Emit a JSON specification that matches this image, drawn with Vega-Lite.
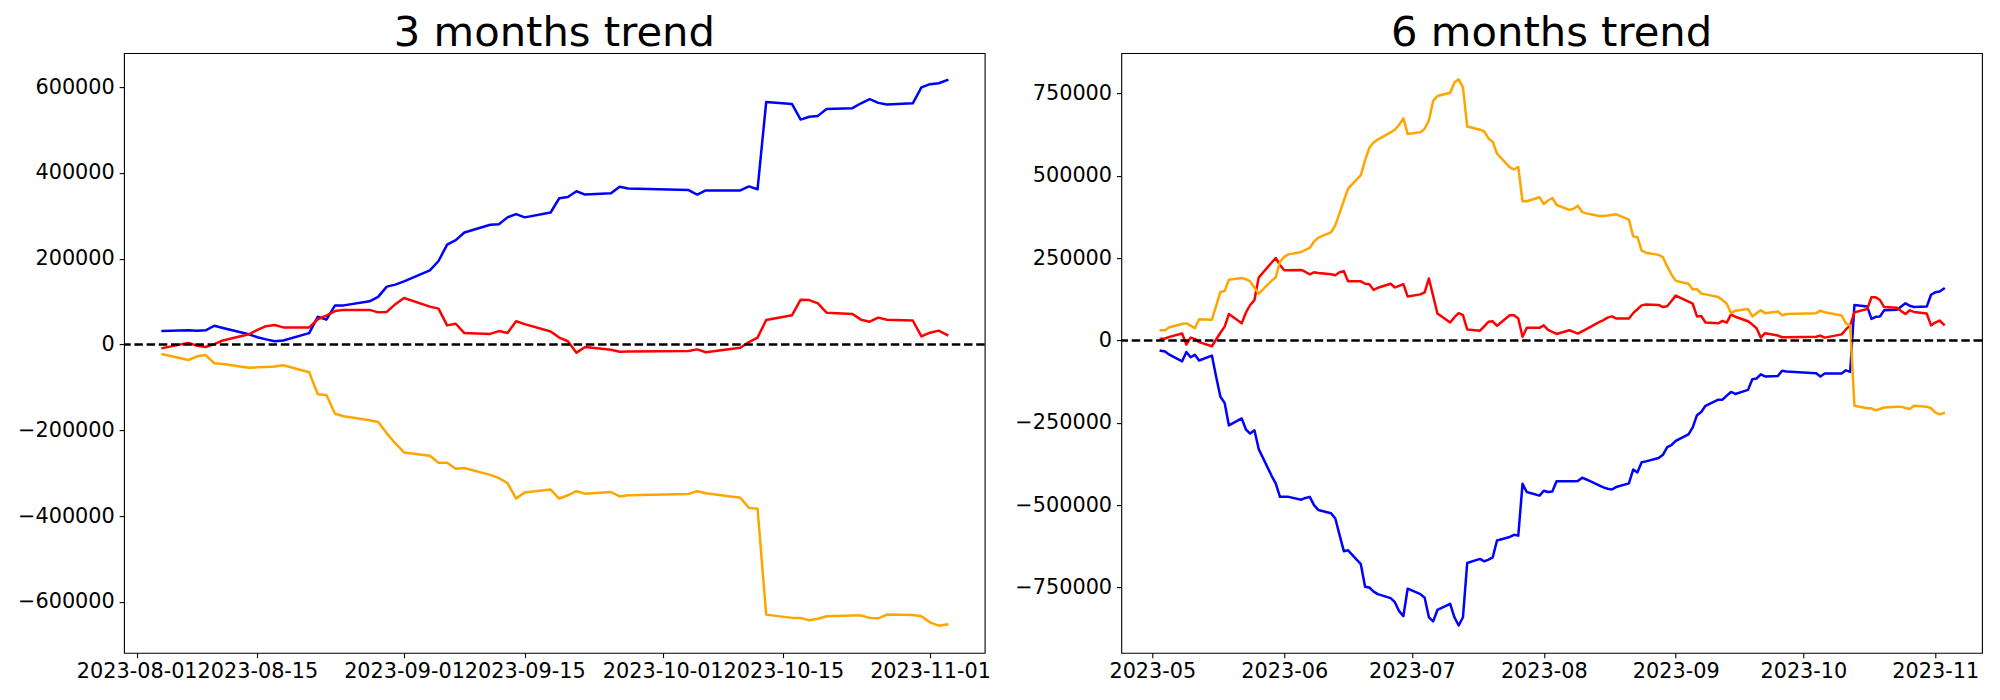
{
  "$schema": "https://vega.github.io/schema/vega-lite/v6.json",
  "padding": {"left": 16, "top": 12.1, "right": 0, "bottom": 0},
  "background": "white",
  "bounds": "flush",
  "spacing": 136.3,
  "config": {
    "font": "DejaVu Sans",
    "view": {"stroke": "black", "strokeWidth": 1.1},
    "axis": {"domain": false, "grid": false, "ticks": true, "tickColor": "black", "tickSize": 4.86, "tickWidth": 1.1, "labelColor": "black", "labelFont": "DejaVu Sans", "labelFontSize": 20.8, "labelPadding": 4.86, "labelOverlap": false, "labelFlush": false},
    "title": {"font": "DejaVu Sans", "fontSize": 41.7, "fontWeight": "normal", "color": "black", "anchor": "middle", "offset": -1.5, "baseline": "alphabetic"},
    "line": {"strokeWidth": 2.5, "strokeJoin": "round", "strokeCap": "square"}
  },
  "datasets": {
    "m3": [
      {"d":"2023/08/04","b":31400,"r":-8500,"o":-22800},
      {"d":"2023/08/07","b":33200,"r":3800,"o":-36100},
      {"d":"2023/08/08","b":32300,"r":-2800,"o":-27500},
      {"d":"2023/08/09","b":33000,"r":-5700,"o":-24700},
      {"d":"2023/08/10","b":43700,"r":1000,"o":-43700},
      {"d":"2023/08/11","b":38500,"r":9500,"o":-45600},
      {"d":"2023/08/14","b":24000,"r":23700,"o":-54100},
      {"d":"2023/08/15","b":17000,"r":34000,"o":-53200},
      {"d":"2023/08/16","b":12000,"r":42700,"o":-52200},
      {"d":"2023/08/17","b":7600,"r":45600,"o":-51300},
      {"d":"2023/08/18","b":9500,"r":39900,"o":-48400},
      {"d":"2023/08/21","b":26600,"r":39900,"o":-64600},
      {"d":"2023/08/22","b":64600,"r":58900,"o":-115900},
      {"d":"2023/08/23","b":58000,"r":67400,"o":-117800},
      {"d":"2023/08/24","b":91200,"r":77900,"o":-161500},
      {"d":"2023/08/25","b":91200,"r":80700,"o":-167200},
      {"d":"2023/08/28","b":100700,"r":80700,"o":-176700},
      {"d":"2023/08/29","b":111000,"r":75000,"o":-180500},
      {"d":"2023/08/30","b":135000,"r":76000,"o":-207100},
      {"d":"2023/08/31","b":139600,"r":94000,"o":-230800},
      {"d":"2023/09/01","b":147000,"r":108300,"o":-251700},
      {"d":"2023/09/04","b":172900,"r":88300,"o":-259300},
      {"d":"2023/09/05","b":194700,"r":83600,"o":-275500},
      {"d":"2023/09/06","b":232700,"r":44600,"o":-275500},
      {"d":"2023/09/07","b":243200,"r":48400,"o":-289700},
      {"d":"2023/09/08","b":261200,"r":26600,"o":-287800},
      {"d":"2023/09/11","b":279300,"r":24700,"o":-304000},
      {"d":"2023/09/12","b":280200,"r":31300,"o":-311600},
      {"d":"2023/09/13","b":296400,"r":26600,"o":-323000},
      {"d":"2023/09/14","b":304000,"r":54100,"o":-359100},
      {"d":"2023/09/15","b":296400,"r":47500,"o":-344800},
      {"d":"2023/09/18","b":307800,"r":30400,"o":-338200},
      {"d":"2023/09/19","b":341000,"r":16100,"o":-359100},
      {"d":"2023/09/20","b":343900,"r":7600,"o":-351500},
      {"d":"2023/09/21","b":357200,"r":-19000,"o":-342000},
      {"d":"2023/09/22","b":349600,"r":-5700,"o":-347700},
      {"d":"2023/09/25","b":352400,"r":-12300,"o":-343900},
      {"d":"2023/09/26","b":367600,"r":-17100,"o":-354300},
      {"d":"2023/09/27","b":363800,"r":-16100,"o":-351500},
      {"d":"2023/10/04","b":360000,"r":-15200,"o":-348600},
      {"d":"2023/10/05","b":349600,"r":-11400,"o":-342000},
      {"d":"2023/10/06","b":359100,"r":-18000,"o":-346700},
      {"d":"2023/10/10","b":359100,"r":-7600,"o":-357200},
      {"d":"2023/10/11","b":368600,"r":5700,"o":-380900},
      {"d":"2023/10/12","b":362000,"r":16100,"o":-382800},
      {"d":"2023/10/13","b":565200,"r":57000,"o":-629800},
      {"d":"2023/10/16","b":560500,"r":68400,"o":-637400},
      {"d":"2023/10/17","b":524400,"r":104500,"o":-637400},
      {"d":"2023/10/18","b":531000,"r":103500,"o":-643100},
      {"d":"2023/10/19","b":533000,"r":95900,"o":-639300},
      {"d":"2023/10/20","b":549100,"r":74100,"o":-633600},
      {"d":"2023/10/23","b":551000,"r":71200,"o":-631700},
      {"d":"2023/10/24","b":562400,"r":57900,"o":-631700},
      {"d":"2023/10/25","b":571900,"r":53200,"o":-637400},
      {"d":"2023/10/26","b":563300,"r":62700,"o":-638400},
      {"d":"2023/10/27","b":559500,"r":57900,"o":-629800},
      {"d":"2023/10/30","b":562400,"r":56000,"o":-630800},
      {"d":"2023/10/31","b":599400,"r":19000,"o":-633600},
      {"d":"2023/11/01","b":607000,"r":27500,"o":-647900},
      {"d":"2023/11/02","b":609000,"r":32300,"o":-655500},
      {"d":"2023/11/03","b":616500,"r":21800,"o":-652600}
    ],
    "m6": [
      {"d":"2023/05/03","b":-31000,"r":5000,"o":31000},
      {"d":"2023/05/04","b":-33500,"r":6200,"o":31000},
      {"d":"2023/05/05","b":-43000,"r":11000,"o":40000},
      {"d":"2023/05/08","b":-63200,"r":21100,"o":50000},
      {"d":"2023/05/09","b":-34700,"r":-12400,"o":52000},
      {"d":"2023/05/10","b":-50800,"r":8700,"o":45000},
      {"d":"2023/05/11","b":-43400,"r":5000,"o":37200},
      {"d":"2023/05/12","b":-60700,"r":-5000,"o":64400},
      {"d":"2023/05/15","b":-45900,"r":-17400,"o":63200},
      {"d":"2023/05/16","b":-110000,"r":3000,"o":105000},
      {"d":"2023/05/17","b":-171000,"r":23600,"o":147500},
      {"d":"2023/05/18","b":-189600,"r":42100,"o":150000},
      {"d":"2023/05/19","b":-257800,"r":80600,"o":184700},
      {"d":"2023/05/22","b":-236700,"r":52100,"o":189600},
      {"d":"2023/05/23","b":-270200,"r":85000,"o":186000},
      {"d":"2023/05/24","b":-282600,"r":107800,"o":179700},
      {"d":"2023/05/25","b":-272700,"r":122700,"o":160000},
      {"d":"2023/05/26","b":-329700,"r":190900,"o":142500},
      {"d":"2023/05/29","b":-410000,"r":236000,"o":181000},
      {"d":"2023/05/30","b":-433800,"r":250400,"o":192100},
      {"d":"2023/05/31","b":-474700,"r":229300,"o":239200},
      {"d":"2023/06/01","b":-474700,"r":213200,"o":254100},
      {"d":"2023/06/02","b":-474700,"r":213200,"o":261500},
      {"d":"2023/06/05","b":-483400,"r":214400,"o":269000},
      {"d":"2023/06/06","b":-478000,"r":208000,"o":275000},
      {"d":"2023/06/07","b":-474700,"r":200800,"o":281400},
      {"d":"2023/06/08","b":-500000,"r":207000,"o":300000},
      {"d":"2023/06/09","b":-514400,"r":205000,"o":312300},
      {"d":"2023/06/12","b":-524300,"r":201000,"o":328500},
      {"d":"2023/06/13","b":-540400,"r":198300,"o":349500},
      {"d":"2023/06/14","b":-590000,"r":207000,"o":386700},
      {"d":"2023/06/15","b":-639600,"r":210700,"o":423900},
      {"d":"2023/06/16","b":-637100,"r":179700,"o":461100},
      {"d":"2023/06/19","b":-679200,"r":179700,"o":502000},
      {"d":"2023/06/20","b":-747400,"r":172300,"o":547900},
      {"d":"2023/06/21","b":-749900,"r":171000,"o":585000},
      {"d":"2023/06/22","b":-762300,"r":153700,"o":601100},
      {"d":"2023/06/23","b":-770000,"r":160000,"o":610000},
      {"d":"2023/06/26","b":-782100,"r":172300,"o":632100},
      {"d":"2023/06/27","b":-794500,"r":161100,"o":640000},
      {"d":"2023/06/28","b":-821800,"r":166000,"o":655000},
      {"d":"2023/06/29","b":-836700,"r":171000,"o":674300},
      {"d":"2023/06/30","b":-753600,"r":133900,"o":627200},
      {"d":"2023/07/03","b":-770000,"r":140000,"o":632000},
      {"d":"2023/07/04","b":-780900,"r":146300,"o":643300},
      {"d":"2023/07/05","b":-840400,"r":188400,"o":668100},
      {"d":"2023/07/06","b":-852800,"r":135000,"o":727600},
      {"d":"2023/07/07","b":-818100,"r":81800,"o":742500},
      {"d":"2023/07/10","b":-799500,"r":54500,"o":752400},
      {"d":"2023/07/11","b":-840400,"r":70700,"o":783400},
      {"d":"2023/07/12","b":-865200,"r":83000,"o":793300},
      {"d":"2023/07/13","b":-840400,"r":76800,"o":768500},
      {"d":"2023/07/14","b":-675500,"r":33500,"o":649500},
      {"d":"2023/07/17","b":-663100,"r":29700,"o":640000},
      {"d":"2023/07/18","b":-670600,"r":43000,"o":634600},
      {"d":"2023/07/19","b":-665000,"r":57000,"o":613500},
      {"d":"2023/07/20","b":-658200,"r":58300,"o":603600},
      {"d":"2023/07/21","b":-607200,"r":44600,"o":567700},
      {"d":"2023/07/24","b":-596500,"r":76800,"o":525500},
      {"d":"2023/07/25","b":-590000,"r":76800,"o":519300},
      {"d":"2023/07/26","b":-592500,"r":66900,"o":526800},
      {"d":"2023/07/27","b":-435100,"r":11200,"o":422700},
      {"d":"2023/07/28","b":-459900,"r":38400,"o":422700},
      {"d":"2023/07/31","b":-471000,"r":38400,"o":435100},
      {"d":"2023/08/01","b":-456100,"r":45900,"o":414000},
      {"d":"2023/08/02","b":-460000,"r":32200,"o":425000},
      {"d":"2023/08/03","b":-458600,"r":26000,"o":432600},
      {"d":"2023/08/04","b":-427600,"r":19800,"o":411500},
      {"d":"2023/08/07","b":-427000,"r":31000,"o":396600},
      {"d":"2023/08/08","b":-427000,"r":26000,"o":400000},
      {"d":"2023/08/09","b":-426400,"r":21100,"o":409000},
      {"d":"2023/08/10","b":-416500,"r":28000,"o":390400},
      {"d":"2023/08/11","b":-422000,"r":34700,"o":386000},
      {"d":"2023/08/14","b":-440000,"r":55800,"o":378000},
      {"d":"2023/08/15","b":-446000,"r":62000,"o":378000},
      {"d":"2023/08/16","b":-450000,"r":69400,"o":379200},
      {"d":"2023/08/17","b":-452400,"r":73100,"o":381000},
      {"d":"2023/08/18","b":-445000,"r":66900,"o":383000},
      {"d":"2023/08/21","b":-433800,"r":66900,"o":366900},
      {"d":"2023/08/22","b":-391700,"r":83000,"o":316100},
      {"d":"2023/08/23","b":-400400,"r":95000,"o":313600},
      {"d":"2023/08/24","b":-369400,"r":106600,"o":272700},
      {"d":"2023/08/25","b":-367000,"r":109100,"o":266500},
      {"d":"2023/08/28","b":-357000,"r":107800,"o":260000},
      {"d":"2023/08/29","b":-347100,"r":101600,"o":252900},
      {"d":"2023/08/30","b":-323500,"r":104100,"o":225000},
      {"d":"2023/08/31","b":-317300,"r":120000,"o":200800},
      {"d":"2023/09/01","b":-305000,"r":136300,"o":181000},
      {"d":"2023/09/04","b":-285100,"r":118000,"o":172300},
      {"d":"2023/09/05","b":-264000,"r":111600,"o":155000},
      {"d":"2023/09/06","b":-226800,"r":73100,"o":156200},
      {"d":"2023/09/07","b":-216900,"r":74400,"o":142500},
      {"d":"2023/09/08","b":-198300,"r":54500,"o":140000},
      {"d":"2023/09/11","b":-179700,"r":52100,"o":132000},
      {"d":"2023/09/12","b":-179700,"r":59500,"o":122700},
      {"d":"2023/09/13","b":-167300,"r":54500,"o":111600},
      {"d":"2023/09/14","b":-156200,"r":79300,"o":83000},
      {"d":"2023/09/15","b":-162400,"r":72000,"o":90500},
      {"d":"2023/09/18","b":-150000,"r":58300,"o":95400},
      {"d":"2023/09/19","b":-117800,"r":48300,"o":73100},
      {"d":"2023/09/20","b":-115300,"r":37200,"o":83000},
      {"d":"2023/09/21","b":-102900,"r":8700,"o":91700},
      {"d":"2023/09/22","b":-109100,"r":22300,"o":83000},
      {"d":"2023/09/25","b":-107800,"r":14900,"o":88000},
      {"d":"2023/09/26","b":-91700,"r":9900,"o":76800},
      {"d":"2023/09/27","b":-94200,"r":9900,"o":80600},
      {"d":"2023/10/04","b":-99200,"r":11200,"o":83000},
      {"d":"2023/10/05","b":-109100,"r":14900,"o":90500},
      {"d":"2023/10/06","b":-100400,"r":8700,"o":85500},
      {"d":"2023/10/10","b":-100400,"r":18600,"o":75600},
      {"d":"2023/10/11","b":-90500,"r":33500,"o":52100},
      {"d":"2023/10/12","b":-95400,"r":45900,"o":45900},
      {"d":"2023/10/13","b":107800,"r":85500,"o":-198300},
      {"d":"2023/10/16","b":102900,"r":95400,"o":-205800},
      {"d":"2023/10/17","b":65700,"r":131400,"o":-205800},
      {"d":"2023/10/18","b":71900,"r":131400,"o":-212000},
      {"d":"2023/10/19","b":73100,"r":122700,"o":-208000},
      {"d":"2023/10/20","b":91700,"r":101600,"o":-203300},
      {"d":"2023/10/23","b":93000,"r":99200,"o":-201000},
      {"d":"2023/10/24","b":103000,"r":89200,"o":-200800},
      {"d":"2023/10/25","b":112800,"r":80600,"o":-205000},
      {"d":"2023/10/26","b":105400,"r":91700,"o":-208200},
      {"d":"2023/10/27","b":101600,"r":86800,"o":-198300},
      {"d":"2023/10/30","b":102900,"r":81800,"o":-200800},
      {"d":"2023/10/31","b":138800,"r":45900,"o":-205800},
      {"d":"2023/11/01","b":146300,"r":54500,"o":-218000},
      {"d":"2023/11/02","b":148700,"r":60700,"o":-224300},
      {"d":"2023/11/03","b":157400,"r":48300,"o":-220600}
    ]
  },
  "hconcat": [
    {
      "title": "3 months trend",
      "width": 860.7,
      "height": 599.7,
      "layer": [
        {
          "data": {"name": "m3"},
          "transform": [{"fold": ["b", "r", "o"], "as": ["s", "v"]}],
          "mark": {"type": "line", "clip": true},
          "encoding": {
            "x": {"field": "d", "type": "temporal", "title": null,
              "scale": {"domain": [{"year": 2023, "month": 7, "date": 30, "hours": 12, "minutes": 40}, {"year": 2023, "month": 11, "date": 7, "hours": 8, "minutes": 10}], "nice": false},
              "axis": {"format": "%Y-%m-%d", "labelPadding": 3.85, "values": [
                {"year": 2023, "month": 8, "date": 1}, {"year": 2023, "month": 8, "date": 15},
                {"year": 2023, "month": 9, "date": 1}, {"year": 2023, "month": 9, "date": 15},
                {"year": 2023, "month": 10, "date": 1}, {"year": 2023, "month": 10, "date": 15},
                {"year": 2023, "month": 11, "date": 1}]}},
            "y": {"field": "v", "type": "quantitative", "title": null,
              "scale": {"domain": [-718800, 679400], "nice": false, "zero": false},
              "axis": {"format": "d", "values": [-600000, -400000, -200000, 0, 200000, 400000, 600000]}},
            "color": {"field": "s", "type": "nominal", "legend": null,
              "scale": {"domain": ["b", "r", "o"], "range": ["#0000ff", "#ff0000", "#ffa500"]}}
          }
        },
        {
          "data": {"values": [{}]},
          "mark": {"type": "rule", "stroke": "black", "strokeWidth": 2.3, "strokeDash": [8.5, 3.7]},
          "encoding": {"y": {"datum": 0}}
        }
      ]
    },
    {
      "title": "6 months trend",
      "width": 860.7,
      "height": 599.7,
      "layer": [
        {
          "data": {"name": "m6"},
          "transform": [{"fold": ["b", "r", "o"], "as": ["s", "v"]}],
          "mark": {"type": "line", "clip": true},
          "encoding": {
            "x": {"field": "d", "type": "temporal", "title": null,
              "scale": {"domain": [{"year": 2023, "month": 4, "date": 23, "hours": 17}, {"year": 2023, "month": 11, "date": 11, "hours": 23, "minutes": 30}], "nice": false},
              "axis": {"format": "%Y-%m", "labelPadding": 3.85, "values": [
                {"year": 2023, "month": 5, "date": 1}, {"year": 2023, "month": 6, "date": 1},
                {"year": 2023, "month": 7, "date": 1}, {"year": 2023, "month": 8, "date": 1},
                {"year": 2023, "month": 9, "date": 1}, {"year": 2023, "month": 10, "date": 1},
                {"year": 2023, "month": 11, "date": 1}]}},
            "y": {"field": "v", "type": "quantitative", "title": null,
              "scale": {"domain": [-948200, 872600], "nice": false, "zero": false},
              "axis": {"format": "d", "values": [-750000, -500000, -250000, 0, 250000, 500000, 750000]}},
            "color": {"field": "s", "type": "nominal", "legend": null,
              "scale": {"domain": ["b", "r", "o"], "range": ["#0000ff", "#ff0000", "#ffa500"]}}
          }
        },
        {
          "data": {"values": [{}]},
          "mark": {"type": "rule", "stroke": "black", "strokeWidth": 2.3, "strokeDash": [8.5, 3.7]},
          "encoding": {"y": {"datum": 0}}
        }
      ]
    }
  ]
}
